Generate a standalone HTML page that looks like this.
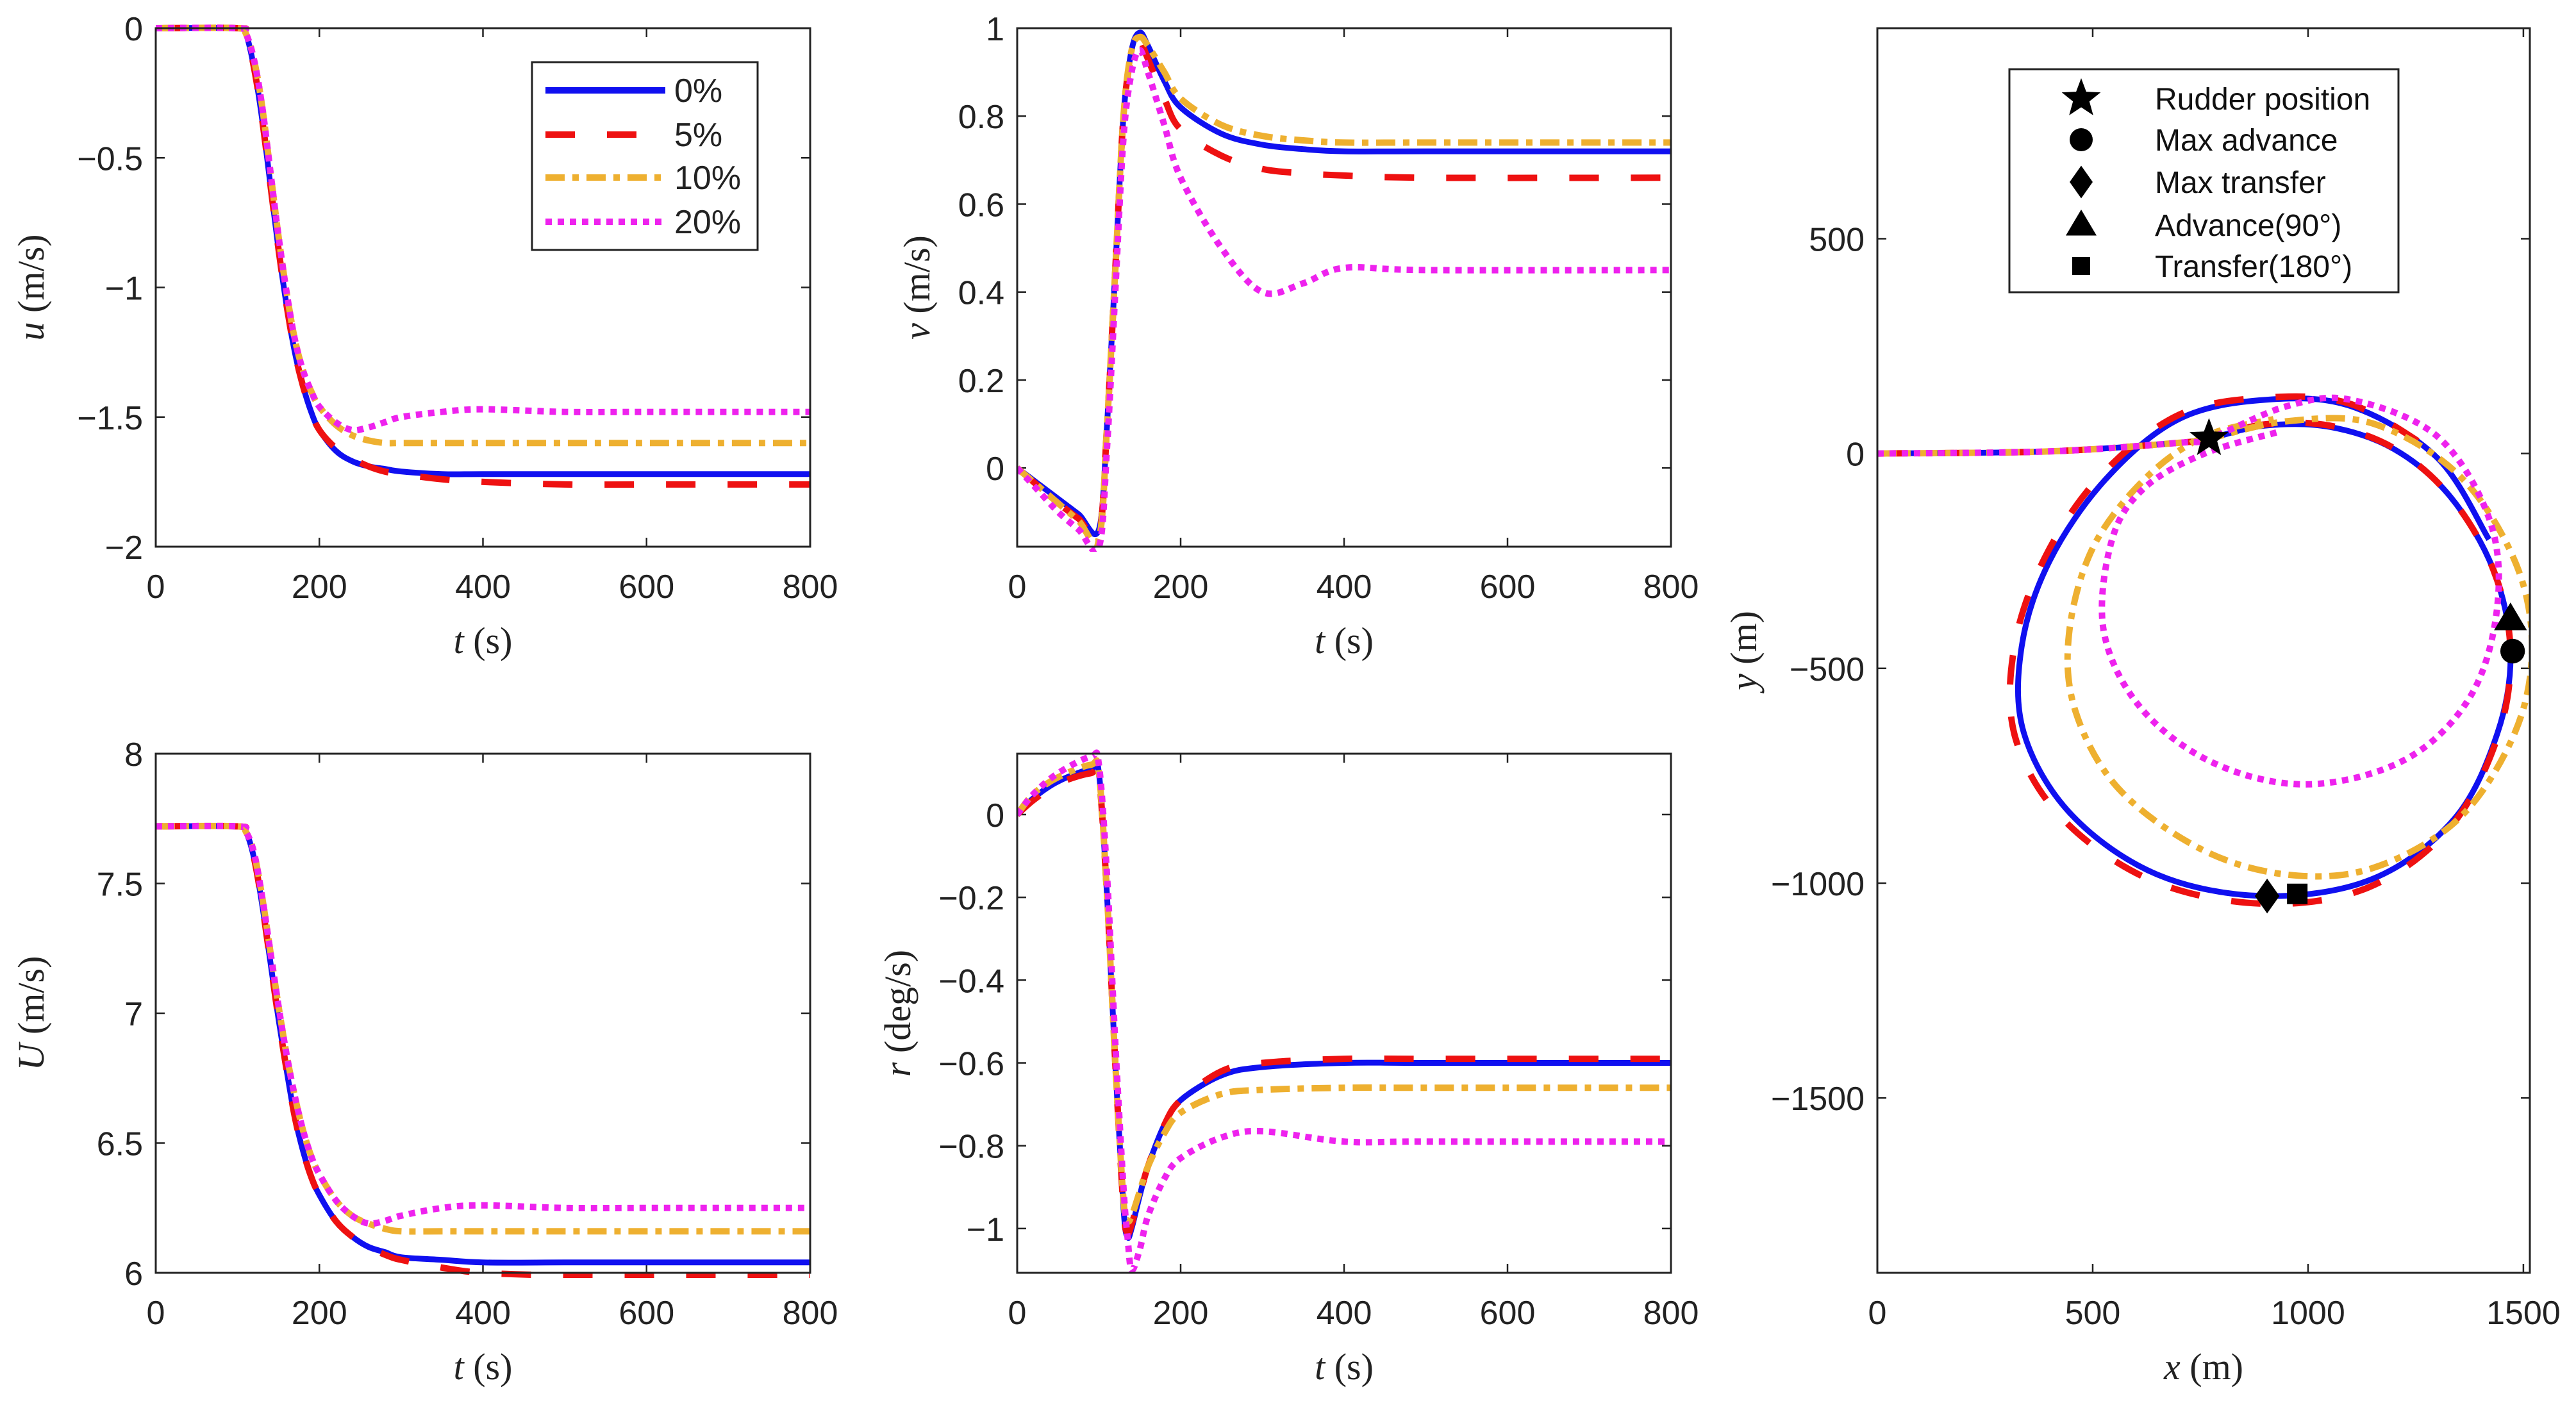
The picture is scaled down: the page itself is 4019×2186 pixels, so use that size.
<!DOCTYPE html>
<html><head><meta charset="utf-8"><style>
html,body{margin:0;padding:0;background:#fff;}
svg{display:block;}
.tk{font-family:"Liberation Sans",sans-serif;font-size:52px;fill:#222;}
.al{font-family:"Liberation Serif",serif;font-size:58px;fill:#222;}
.lg{font-family:"Liberation Sans",sans-serif;font-size:48px;fill:#111;}
</style></head><body>
<svg id="fig" width="4019" height="2186" viewBox="0 0 4019 2186" xmlns="http://www.w3.org/2000/svg"></svg>
<script>
// ---- data ----
const seriesNames = ["0%","5%","10%","20%"];
const tU = [0,100,110,120,130,140,150,160,170,180,190,200,220,240,260,280,300,350,400,500,600,700,800];
const u0 = [0,0,-0.02,-0.15,-0.35,-0.6,-0.85,-1.07,-1.25,-1.38,-1.48,-1.55,-1.63,-1.67,-1.69,-1.70,-1.71,-1.72,-1.72,-1.72,-1.72,-1.72,-1.72];
const u5 = [0,0,-0.02,-0.15,-0.35,-0.6,-0.85,-1.07,-1.25,-1.38,-1.48,-1.55,-1.62,-1.66,-1.69,-1.71,-1.72,-1.74,-1.75,-1.76,-1.76,-1.76,-1.76];
const u10 = [0,0,-0.02,-0.12,-0.3,-0.55,-0.8,-1.02,-1.2,-1.32,-1.4,-1.46,-1.53,-1.57,-1.59,-1.6,-1.6,-1.6,-1.6,-1.6,-1.6,-1.6,-1.6];
const u20 = [0,0,-0.02,-0.12,-0.3,-0.55,-0.8,-1.02,-1.2,-1.32,-1.4,-1.46,-1.52,-1.55,-1.54,-1.52,-1.5,-1.48,-1.47,-1.48,-1.48,-1.48,-1.48];
const tV = [0,25,50,75,100,110,120,130,140,150,160,180,200,250,300,350,400,500,800];
const v0 = [0,-0.035,-0.07,-0.105,-0.14,0.1,0.45,0.8,0.95,0.99,0.96,0.88,0.82,0.76,0.735,0.725,0.72,0.72,0.72];
const v5 = [0,-0.04,-0.08,-0.115,-0.15,0.1,0.45,0.8,0.94,0.97,0.93,0.84,0.77,0.71,0.68,0.67,0.665,0.66,0.66];
const v10 = [0,-0.04,-0.08,-0.12,-0.16,0.1,0.45,0.8,0.95,0.98,0.96,0.9,0.84,0.78,0.755,0.745,0.74,0.74,0.74];
const v20 = [0,-0.05,-0.1,-0.14,-0.18,0.05,0.4,0.75,0.9,0.95,0.9,0.78,0.66,0.5,0.4,0.42,0.455,0.45,0.45];
const Ug0 = [7.72,7.72,7.70,7.6,7.42,7.2,6.98,6.78,6.6,6.47,6.37,6.3,6.2,6.14,6.1,6.08,6.06,6.05,6.04,6.04,6.04,6.04,6.04];
const Ug5 = [7.72,7.72,7.70,7.6,7.42,7.2,6.98,6.78,6.6,6.47,6.37,6.3,6.2,6.14,6.1,6.07,6.05,6.02,6.0,5.99,5.99,5.99,5.99];
const Ug10 = [7.72,7.72,7.70,7.62,7.45,7.24,7.03,6.84,6.68,6.55,6.45,6.38,6.28,6.22,6.19,6.17,6.16,6.16,6.16,6.16,6.16,6.16,6.16];
const Ug20 = [7.72,7.72,7.70,7.62,7.45,7.24,7.03,6.84,6.68,6.55,6.45,6.38,6.28,6.22,6.19,6.2,6.22,6.25,6.26,6.25,6.25,6.25,6.25];
const tR = [0,20,50,90,100,110,120,130,135,140,150,160,180,200,250,300,400,500,800];
const r0 = [0,0.04,0.08,0.11,0.1,-0.2,-0.6,-0.95,-1.02,-1.0,-0.92,-0.85,-0.75,-0.69,-0.63,-0.61,-0.6,-0.6,-0.6];
const r5 = [0,0.035,0.075,0.1,0.09,-0.2,-0.6,-0.95,-1.01,-0.99,-0.92,-0.85,-0.75,-0.69,-0.62,-0.6,-0.59,-0.59,-0.59];
const r10 = [0,0.05,0.09,0.12,0.1,-0.2,-0.6,-0.93,-0.98,-0.97,-0.91,-0.85,-0.77,-0.72,-0.675,-0.665,-0.66,-0.66,-0.66];
const r20 = [0,0.05,0.1,0.14,0.12,-0.15,-0.55,-0.9,-1.02,-1.1,-1.05,-0.97,-0.88,-0.83,-0.78,-0.765,-0.79,-0.79,-0.79];
const px0 = [0,400,700,770,900,1050,1200,1330,1430,1470,1440,1340,1150,900,650,450,340,335,400,530,700,900,1100,1300,1420];
const py0 = [0,5,25,35,65,62,10,-100,-270,-460,-650,-850,-990,-1030,-980,-840,-650,-450,-250,-60,80,125,110,-10,-200];
const px5 = [0,400,700,770,900,1050,1200,1330,1430,1470,1440,1330,1140,900,640,430,320,318,390,520,700,900,1100,1300];
const py5 = [0,5,25,35,68,65,12,-100,-270,-460,-660,-870,-1010,-1048,-995,-850,-660,-450,-240,-50,90,130,115,0];
const px10 = [0,400,700,770,950,1150,1350,1480,1520,1480,1350,1150,950,750,560,460,445,500,620,760,920];
const py10 = [0,5,25,35,75,70,-50,-250,-450,-650,-850,-965,-980,-920,-780,-600,-420,-220,-60,40,80];
const px20 = [0,400,700,770,950,1100,1300,1420,1440,1380,1230,1000,780,610,525,545,620,760,930];
const py20 = [0,5,25,35,110,125,40,-150,-350,-560,-710,-770,-720,-590,-410,-200,-80,0,50];
const markNames = ["Rudder position","Max advance","Max transfer","Advance(90°)","Transfer(180°)"];
const markX = [770,1475,905,1470,975];
const markY = [35,-460,-1030,-385,-1025];
const tTicks = [0,200,400,600,800];
const uTicks = [0,-0.5,-1,-1.5,-2], uTickLabels = ["0","\u22120.5","\u22121","\u22121.5","\u22122"];
const vTicks = [0,0.2,0.4,0.6,0.8,1], vTickLabels = ["0","0.2","0.4","0.6","0.8","1"];
const UTicks = [6,6.5,7,7.5,8], UTickLabels = ["6","6.5","7","7.5","8"];
const rTicks = [0,-0.2,-0.4,-0.6,-0.8,-1], rTickLabels = ["0","\u22120.2","\u22120.4","\u22120.6","\u22120.8","\u22121"];
const xTicks = [0,500,1000,1500], xTickLabels = ["0","500","1000","1500"];
const yTicks = [500,0,-500,-1000,-1500], yTickLabels = ["500","0","\u2212500","\u22121000","\u22121500"];

// ---- styles ----
const colors = ["#1010f0","#ee1111","#eeb030","#ee22ee"];
const dashes = ["", "46,50", "30,12,10,12", "10,9"];
const NS = "http://www.w3.org/2000/svg";
const svg = document.getElementById("fig");
function mk(tag, attrs, parent){const e=document.createElementNS(NS,tag);for(const k in attrs)e.setAttribute(k,attrs[k]);(parent||svg).appendChild(e);return e;}
function smooth(pts){
  let d="M"+pts[0][0].toFixed(1)+","+pts[0][1].toFixed(1);
  for(let i=0;i<pts.length-1;i++){
    const p0=pts[Math.max(i-1,0)],p1=pts[i],p2=pts[i+1],p3=pts[Math.min(i+2,pts.length-1)];
    const c1=[p1[0]+(p2[0]-p0[0])/6,p1[1]+(p2[1]-p0[1])/6],c2=[p2[0]-(p3[0]-p1[0])/6,p2[1]-(p3[1]-p1[1])/6];
    d+=" C"+c1[0].toFixed(1)+","+c1[1].toFixed(1)+" "+c2[0].toFixed(1)+","+c2[1].toFixed(1)+" "+p2[0].toFixed(1)+","+p2[1].toFixed(1);
  }
  return d;
}
function axes(name,L,R,T,B,xmin,xmax,ymin,ymax,xt,xtl,yt,ytl,xlab,ylab,ylabX){
  const g=mk("g",{});
  
  
  const sx=v=>L+(v-xmin)/(xmax-xmin)*(R-L), sy=v=>B-(v-ymin)/(ymax-ymin)*(B-T);
  const clipId="c"+name;
  const cp=mk("clipPath",{id:clipId},g); mk("rect",{x:L,y:T-8,width:R-L,height:B-T+16},cp);
  xt.forEach((v,i)=>{const x=sx(v);
    mk("line",{x1:x,y1:B,x2:x,y2:B-14,stroke:"#222","stroke-width":2.5},g);
    mk("line",{x1:x,y1:T,x2:x,y2:T+14,stroke:"#222","stroke-width":2.5},g);
    const t=mk("text",{x:x,y:B+80,"text-anchor":"middle",class:"tk"},g);t.textContent=xtl[i];
    
    
  });
  yt.forEach((v,i)=>{const y=sy(v);
    mk("line",{x1:L,y1:y,x2:L+14,y2:y,stroke:"#222","stroke-width":2.5},g);
    mk("line",{x1:R,y1:y,x2:R-14,y2:y,stroke:"#222","stroke-width":2.5},g);
    const t=mk("text",{x:L-20,y:y+19,"text-anchor":"end",class:"tk"},g);t.textContent=ytl[i];
    
    
  });
  const xl=mk("text",{x:(L+R)/2,y:B+166,"text-anchor":"middle",class:"al"},g);
  xl.innerHTML='<tspan font-style="italic">'+xlab[0]+'</tspan> '+xlab[1];
  
  
  const yl=mk("text",{x:0,y:0,"text-anchor":"middle",class:"al",transform:"translate("+ylabX+","+(T+B)/2+") rotate(-90)"},g);
  yl.innerHTML='<tspan font-style="italic">'+ylab[0]+'</tspan> '+ylab[1];
  
  
  const plot=mk("g",{"clip-path":"url(#"+clipId+")"},g);
  return {g,plot,sx,sy,L,R,T,B};
}
function frame(a){mk("rect",{x:a.L,y:a.T,width:a.R-a.L,height:a.B-a.T,fill:"none",stroke:"#222","stroke-width":3},a.g);}
function series(a,xs,ys,k,name){
  const pts=xs.map((x,i)=>[a.sx(x),a.sy(ys[i])]);
  const p=mk("path",{d:smooth(pts),fill:"none",stroke:colors[k],"stroke-width":k==0?9:10,"stroke-dasharray":dashes[k]},a.plot);
  
  
}
// panel u
const A1=axes("u-panel",243,1264,44,853,0,800,-2,0,tTicks,tTicks.map(String),uTicks,uTickLabels,["t","(s)"],["u","(m/s)"],68);
[u0,u5,u10,u20].forEach((s,k)=>series(A1,tU,s,k,"u-line-"+seriesNames[k].replace('%','pct')));
frame(A1);
// panel v
const A2=axes("v-panel",1587,2607,44,853,0,800,-0.179,1,tTicks,tTicks.map(String),vTicks,vTickLabels,["t","(s)"],["v","(m/s)"],1450);
[v0,v5,v10,v20].forEach((s,k)=>series(A2,tV,s,k,"v-line-"+seriesNames[k].replace('%','pct')));
frame(A2);
// panel U
const A3=axes("U-panel",243,1264,1176,1986,0,800,6,8,tTicks,tTicks.map(String),UTicks,UTickLabels,["t","(s)"],["U","(m/s)"],68);
[Ug0,Ug5,Ug10,Ug20].forEach((s,k)=>series(A3,tU,s,k,"U-line-"+seriesNames[k].replace('%','pct')));
frame(A3);
// panel r
const A4=axes("r-panel",1587,2607,1176,1986,0,800,-1.107,0.147,tTicks,tTicks.map(String),rTicks,rTickLabels,["t","(s)"],["r","(deg/s)"],1420);
[r0,r5,r10,r20].forEach((s,k)=>series(A4,tR,s,k,"r-line-"+seriesNames[k].replace('%','pct')));
frame(A4);
// panel xy
const A5=axes("trajectory-panel",2929,3947,44,1986,0,1515,-1907,990,xTicks,xTickLabels,yTicks,yTickLabels,["x","(m)"],["y","(m)"],2740);
[[px0,py0],[px5,py5],[px10,py10],[px20,py20]].forEach((s,k)=>series(A5,s[0],s[1],k,"trajectory-"+seriesNames[k].replace('%','pct')));
function marker(g,type,x,y,s){
  if(type==0){let d="";for(let i=0;i<10;i++){const r=i%2?s*0.42:s,a=-Math.PI/2+i*Math.PI/5;d+=(i?"L":"M")+(x+r*Math.cos(a)).toFixed(1)+","+(y+r*Math.sin(a)).toFixed(1);}return mk("path",{d:d+"Z",fill:"#000"},g);}
  if(type==1)return mk("circle",{cx:x,cy:y,r:s*0.6,fill:"#000"},g);
  if(type==2)return mk("path",{d:`M${x},${y-s*0.85}L${x+s*0.6},${y}L${x},${y+s*0.85}L${x-s*0.6},${y}Z`,fill:"#000"},g);
  if(type==3)return mk("path",{d:`M${x},${y-s*0.8}L${x+s*0.8},${y+s*0.55}L${x-s*0.8},${y+s*0.55}Z`,fill:"#000"},g);
  return mk("rect",{x:x-s*0.5,y:y-s*0.5,width:s,height:s,fill:"#000"},g);
}
markX.forEach((v,i)=>{const m=marker(A5.g,i,A5.sx(v),A5.sy(markY[i]),32);
  
  });
frame(A5);
// legend 1
const lg1=mk("g",{});


mk("rect",{x:830,y:97,width:352,height:293,fill:"#fff",stroke:"#222","stroke-width":3},lg1);
[141,210,277,346].forEach((y,k)=>{
  const e=mk("g",{},lg1);
  
  
  mk("line",{x1:851,y1:y,x2:1038,y2:y,stroke:colors[k],"stroke-width":10,"stroke-dasharray":dashes[k]},e);
  const t=mk("text",{x:1052,y:y+18,class:"tk"},e);t.textContent=seriesNames[k];
});
// legend 2
const lg2=mk("g",{});


mk("rect",{x:3135,y:108,width:607,height:348,fill:"#fff",stroke:"#222","stroke-width":3},lg2);
[154,218,284,351,415].forEach((y,i)=>{
  const e=mk("g",{},lg2);
  
  
  marker(e,i,3247,y,i==0?32:i==4?28:30);
  const t=mk("text",{x:3362,y:y+17,class:"lg"},e);t.textContent=markNames[i];
});
</script>
</body></html>
